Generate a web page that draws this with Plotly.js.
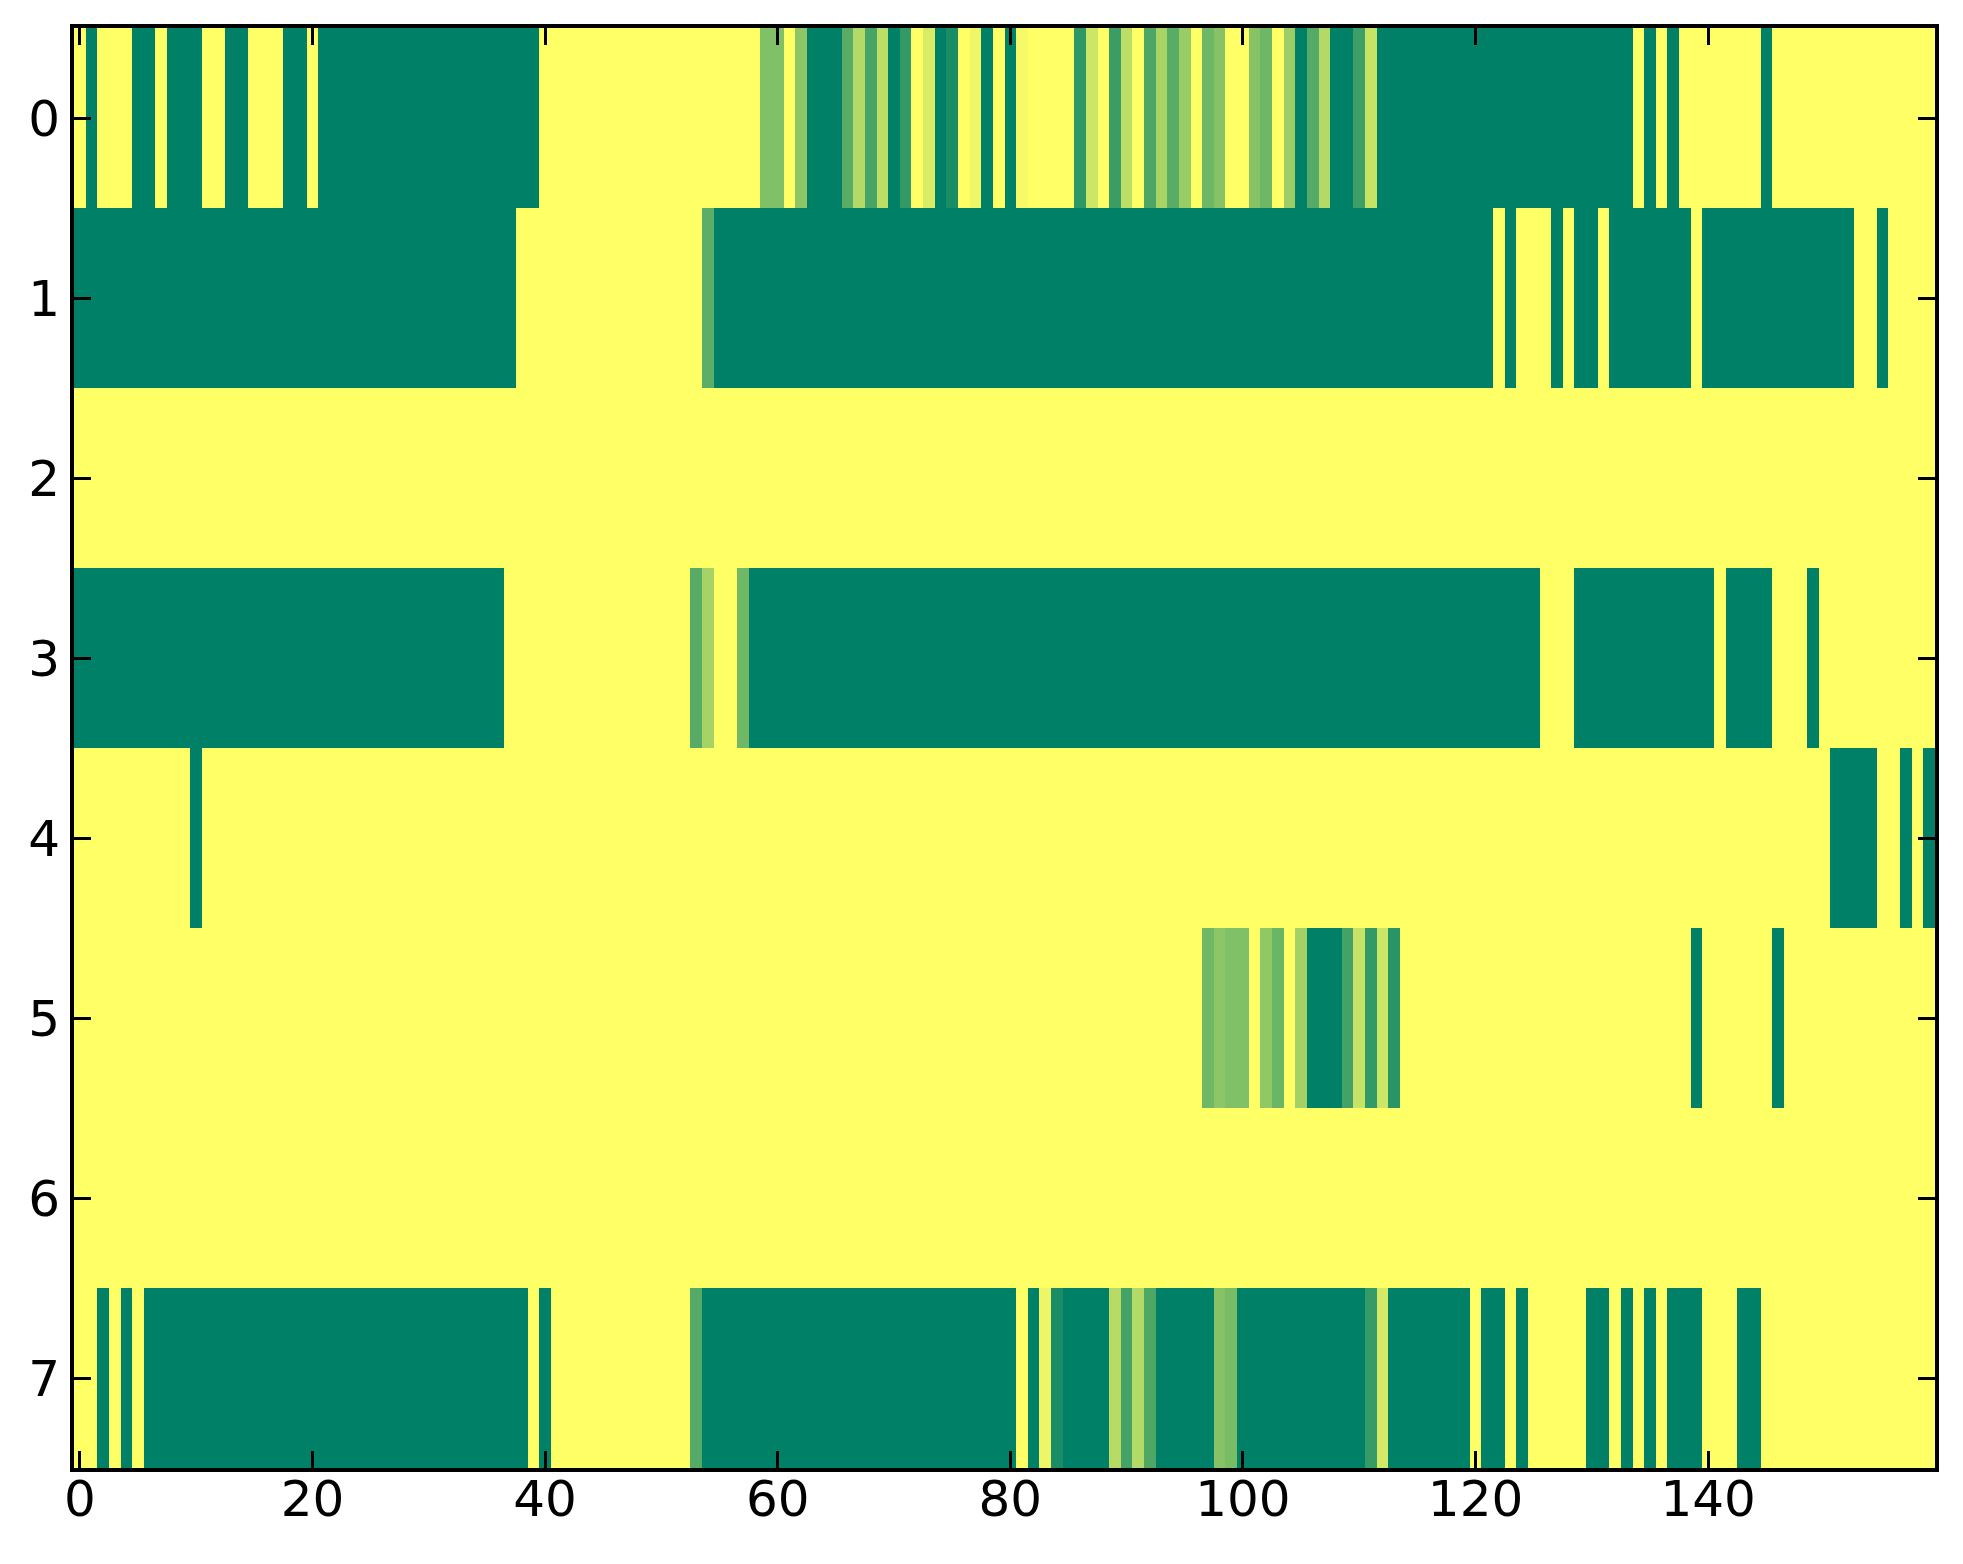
<!DOCTYPE html>
<html>
<head>
<meta charset="utf-8">
<script src="https://cdn.plot.ly/plotly-3.0.1.min.js"></script>
<style>html,body{margin:0;padding:0;background:#fff;}#chart{width:1963px;height:1564px;}</style>
</head>
<body>
<div id="chart"></div>
<script>
const columns = [0,1,2,3,4,5,6,7,8,9,10,11,12,13,14,15,16,17,18,19,20,21,22,23,24,25,26,27,28,29,30,31,32,33,34,35,36,37,38,39,40,41,42,43,44,45,46,47,48,49,50,51,52,53,54,55,56,57,58,59,60,61,62,63,64,65,66,67,68,69,70,71,72,73,74,75,76,77,78,79,80,81,82,83,84,85,86,87,88,89,90,91,92,93,94,95,96,97,98,99,100,101,102,103,104,105,106,107,108,109,110,111,112,113,114,115,116,117,118,119,120,121,122,123,124,125,126,127,128,129,130,131,132,133,134,135,136,137,138,139,140,141,142,143,144,145,146,147,148,149,150,151,152,153,154,155,156,157,158,159];
const rowLabels = [0,1,2,3,4,5,6,7];

const row0 = [
1,0,1,1,1,0,0,1,0,0,
0,1,1,0,0,1,1,1,0,0,
1,0,0,0,0,0,0,0,0,0,
0,0,0,0,0,0,0,0,0,0,
1,1,1,1,1,1,1,1,1,1,
1,1,1,1,1,1,1,1,1,0.5,
0.5,1,0.55,0,0,0,0.35,0.7,0.28,0.74,
0,0.2,1,0.85,0,0.1,1,0.94,0,1,
0,0.96,1,1,1,1,0.18,0.8,1,0.23,
0.74,1,0.3,0.66,0.35,0.6,1,0.43,0.53,1,
1,0.53,0.43,1,0.61,0,0.33,0.7,0,0,
0.24,0.78,0,0,0,0,0,0,0,0,
0,0,0,0,0,0,0,0,0,0,
0,0,0,0,1,0,1,0,1,1,
1,1,1,1,1,0,1,1,1,1,
1,1,1,1,1,1,1,1,1,1];

const row1 = [
0,0,0,0,0,0,0,0,0,0,
0,0,0,0,0,0,0,0,0,0,
0,0,0,0,0,0,0,0,0,0,
0,0,0,0,0,0,0,0,1,1,
1,1,1,1,1,1,1,1,1,1,
1,1,1,1,0.36,0,0,0,0,0,
0,0,0,0,0,0,0,0,0,0,
0,0,0,0,0,0,0,0,0,0,
0,0,0,0,0,0,0,0,0,0,
0,0,0,0,0,0,0,0,0,0,
0,0,0,0,0,0,0,0,0,0,
0,0,0,0,0,0,0,0,0,0,
0,0,1,0,1,1,1,0,1,0,
0,1,0,0,0,0,0,0,0,1,
0,0,0,0,0,0,0,0,0,0,
0,0,0,1,1,0,1,1,1,1];

const row2 = [
1,1,1,1,1,1,1,1,1,1,
1,1,1,1,1,1,1,1,1,1,
1,1,1,1,1,1,1,1,1,1,
1,1,1,1,1,1,1,1,1,1,
1,1,1,1,1,1,1,1,1,1,
1,1,1,1,1,1,1,1,1,1,
1,1,1,1,1,1,1,1,1,1,
1,1,1,1,1,1,1,1,1,1,
1,1,1,1,1,1,1,1,1,1,
1,1,1,1,1,1,1,1,1,1,
1,1,1,1,1,1,1,1,1,1,
1,1,1,1,1,1,1,1,1,1,
1,1,1,1,1,1,1,1,1,1,
1,1,1,1,1,1,1,1,1,1,
1,1,1,1,1,1,1,1,1,1,
1,1,1,1,1,1,1,1,1,1];

const row3 = [
0,0,0,0,0,0,0,0,0,0,
0,0,0,0,0,0,0,0,0,0,
0,0,0,0,0,0,0,0,0,0,
0,0,0,0,0,0,0,1,1,1,
1,1,1,1,1,1,1,1,1,1,
1,1,1,0.34,0.65,1,1,0.44,0,0,
0,0,0,0,0,0,0,0,0,0,
0,0,0,0,0,0,0,0,0,0,
0,0,0,0,0,0,0,0,0,0,
0,0,0,0,0,0,0,0,0,0,
0,0,0,0,0,0,0,0,0,0,
0,0,0,0,0,0,0,0,0,0,
0,0,0,0,0,0,1,1,1,0,
0,0,0,0,0,0,0,0,0,0,
0,1,0,0,0,0,1,1,1,0,
1,1,1,1,1,1,1,1,1,1];

const row4 = [
1,1,1,1,1,1,1,1,1,1,
0,1,1,1,1,1,1,1,1,1,
1,1,1,1,1,1,1,1,1,1,
1,1,1,1,1,1,1,1,1,1,
1,1,1,1,1,1,1,1,1,1,
1,1,1,1,1,1,1,1,1,1,
1,1,1,1,1,1,1,1,1,1,
1,1,1,1,1,1,1,1,1,1,
1,1,1,1,1,1,1,1,1,1,
1,1,1,1,1,1,1,1,1,1,
1,1,1,1,1,1,1,1,1,1,
1,1,1,1,1,1,1,1,1,1,
1,1,1,1,1,1,1,1,1,1,
1,1,1,1,1,1,1,1,1,1,
1,1,1,1,1,1,1,1,1,1,
1,0,0,0,0,1,1,0,1,0];

const row5 = [
1,1,1,1,1,1,1,1,1,1,
1,1,1,1,1,1,1,1,1,1,
1,1,1,1,1,1,1,1,1,1,
1,1,1,1,1,1,1,1,1,1,
1,1,1,1,1,1,1,1,1,1,
1,1,1,1,1,1,1,1,1,1,
1,1,1,1,1,1,1,1,1,1,
1,1,1,1,1,1,1,1,1,1,
1,1,1,1,1,1,1,1,1,1,
1,1,1,1,1,1,1,0.44,0.55,0.5,
0.5,1,0.57,0.42,1,0.64,0,0,0,0.27,
0.78,0.2,0.8,0.16,1,1,1,1,1,1,
1,1,1,1,1,1,1,1,1,1,
1,1,1,1,1,1,1,1,1,0,
1,1,1,1,1,1,0,1,1,1,
1,1,1,1,1,1,1,1,1,1];

const row6 = [
1,1,1,1,1,1,1,1,1,1,
1,1,1,1,1,1,1,1,1,1,
1,1,1,1,1,1,1,1,1,1,
1,1,1,1,1,1,1,1,1,1,
1,1,1,1,1,1,1,1,1,1,
1,1,1,1,1,1,1,1,1,1,
1,1,1,1,1,1,1,1,1,1,
1,1,1,1,1,1,1,1,1,1,
1,1,1,1,1,1,1,1,1,1,
1,1,1,1,1,1,1,1,1,1,
1,1,1,1,1,1,1,1,1,1,
1,1,1,1,1,1,1,1,1,1,
1,1,1,1,1,1,1,1,1,1,
1,1,1,1,1,1,1,1,1,1,
1,1,1,1,1,1,1,1,1,1,
1,1,1,1,1,1,1,1,1,1];

const row7 = [
1,1,0,1,0,1,0,0,0,0,
0,0,0,0,0,0,0,0,0,0,
0,0,0,0,0,0,0,0,0,0,
0,0,0,0,0,0,0,0,0,1,
0,1,1,1,1,1,1,1,1,1,
1,1,1,0.33,0,0,0,0,0,0,
0,0,0,0,0,0,0,0,0,0,
0,0,0,0,0,0,0,0,0,0,
0,1,0,0.93,0.1,0,0,0,0,0.72,
0.27,0.7,0.31,0,0,0,0,0,0.53,0.47,
0,0,0,0,0,0,0,0,0,0,
0,0.21,0.83,0,0,0,0,0,0,0,
1,0,0,1,0,1,1,1,1,1,
0,0,1,0,1,0,1,0,0,0,
1,1,1,0,0,1,1,1,1,1,
1,1,1,1,1,1,1,1,1,1];

const xTickVals = [0,20,40,60,80,100,120,140];
const xTickText = ['0','20','40','60','80','100','120','140'];
const yTickVals = [0,1,2,3,4,5,6,7];
const yTickText = ['0','1','2','3','4','5','6','7'];

const zRows = [row0,row1,row2,row3,row4,row5,row6,row7];

const trace = {
  type: 'heatmap',
  x: columns,
  y: rowLabels,
  z: zRows,
  zmin: 0, zmax: 1,
  colorscale: [[0,'rgb(0,128,102)'],[1,'rgb(255,255,102)']],
  showscale: false,
  hoverinfo: 'skip'
};

const axisFont = {family: 'DejaVu Sans', size: 50, color: '#000'};

const layout = {
  width: 1963, height: 1564,
  margin: {l: 74, r: 28, t: 28, b: 96, pad: 0},
  paper_bgcolor: '#ffffff',
  plot_bgcolor: '#ffffff',
  showlegend: false,
  xaxis: {
    range: [-0.5, 159.5],
    tickmode: 'array', tickvals: xTickVals, ticktext: xTickText,
    ticks: 'inside', ticklen: 17, tickwidth: 3, tickcolor: '#000',
    showline: true, linewidth: 4, linecolor: '#000', mirror: 'ticks',
    showgrid: false, zeroline: false,
    tickfont: axisFont, ticklabelstandoff: -16,
    layer: 'above traces'
  },
  yaxis: {
    range: [7.5, -0.5],
    tickmode: 'array', tickvals: yTickVals, ticktext: yTickText,
    ticks: 'inside', ticklen: 17, tickwidth: 3, tickcolor: '#000',
    showline: true, linewidth: 4, linecolor: '#000', mirror: 'ticks',
    showgrid: false, zeroline: false,
    tickfont: axisFont, ticklabelstandoff: 0,
    layer: 'above traces'
  }
};

Plotly.newPlot('chart', [trace], layout, {displayModeBar: false, staticPlot: true});
</script>
</body>
</html>
